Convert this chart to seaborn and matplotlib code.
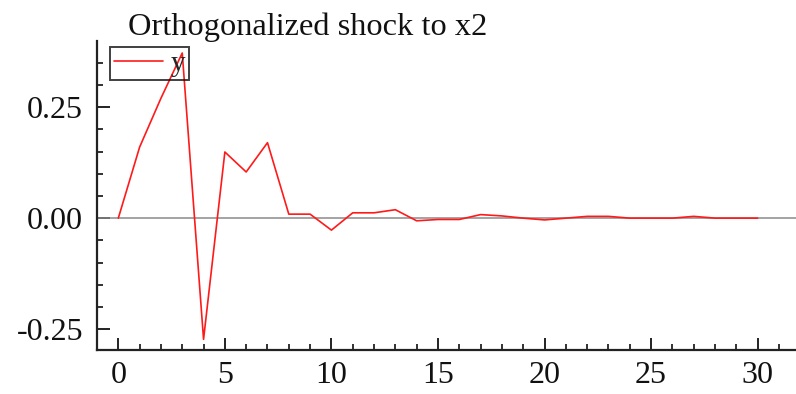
import numpy as np
import pandas as pd
import matplotlib
matplotlib.use("Agg")
import matplotlib.pyplot as plt
from matplotlib.ticker import MultipleLocator
import seaborn as sns

# Data
horizon = list(range(0, 31))
response_y = [0.0, 0.16, 0.27, 0.372, -0.273, 0.149, 0.104, 0.170, 0.009, 0.009,
              -0.027, 0.012, 0.012, 0.019, -0.006, -0.003, -0.003, 0.008, 0.005, 0.0,
              -0.004, 0.0, 0.004, 0.004, 0.0, 0.0, 0.0, 0.004, 0.0, 0.0, 0.0]
series_name = "y"
title_text = "Orthogonalized shock to x2"
x_ticks = [0, 5, 10, 15, 20, 25, 30]
y_ticks = [-0.25, 0.0, 0.25]
y_tick_labels = ["-0.25", "0.00", "0.25"]

df = pd.DataFrame({"h": horizon, "v": response_y, "series": series_name})

sns.set_style("ticks")
plt.rcParams["font.family"] = ["Liberation Serif", "DejaVu Serif"]

fig = plt.figure(figsize=(7.96, 3.94), dpi=100)
ax = fig.add_axes([97 / 796, 1 - 350 / 394, 1 - 97 / 796, (350 - 41) / 394])

ax.axhline(0, color="#8a8a8a", lw=1.1, zorder=1)
sns.lineplot(data=df, x="h", y="v", hue="series", palette=["#ff1a1a"],
             lw=1.2, ax=ax, zorder=2)

ax.set_xlim(-1.0, 31.8)
ax.set_ylim(-0.297, 0.399)
ax.set_xticks(x_ticks)
ax.set_xticklabels([str(t) for t in x_ticks])
ax.set_yticks(y_ticks)
ax.set_yticklabels(y_tick_labels)
ax.xaxis.set_minor_locator(MultipleLocator(1))
ax.yaxis.set_minor_locator(MultipleLocator(0.05))
ax.tick_params(which="major", direction="in", length=9, width=1.4,
               labelsize=23, color="#222222", labelcolor="#111111")
ax.tick_params(axis="y", which="major", pad=10)
ax.tick_params(axis="x", which="major", pad=8)
ax.tick_params(which="minor", direction="in", length=4, width=1.3, color="#222222")
ax.set_xlabel("")
ax.set_ylabel("")
for s in ["top", "right"]:
    ax.spines[s].set_visible(False)
for s in ["left", "bottom"]:
    ax.spines[s].set_linewidth(1.6)
    ax.spines[s].set_color("#222222")

leg = ax.legend(loc="upper left", bbox_to_anchor=(13 / 699, 1 - 6 / 309),
                borderaxespad=0, fontsize=21, frameon=True, fancybox=False,
                handlelength=1.7, handletextpad=0.25, borderpad=0.12,
                labelspacing=0)
frame = leg.get_frame()
frame.set_edgecolor("#111111")
frame.set_linewidth(1.4)
frame.set_facecolor("none")

fig.text(128 / 796, 1 - 35 / 394, title_text, fontsize=23.3, color="#111111",
         ha="left", va="baseline")

fig.savefig("out.png", dpi=100)
